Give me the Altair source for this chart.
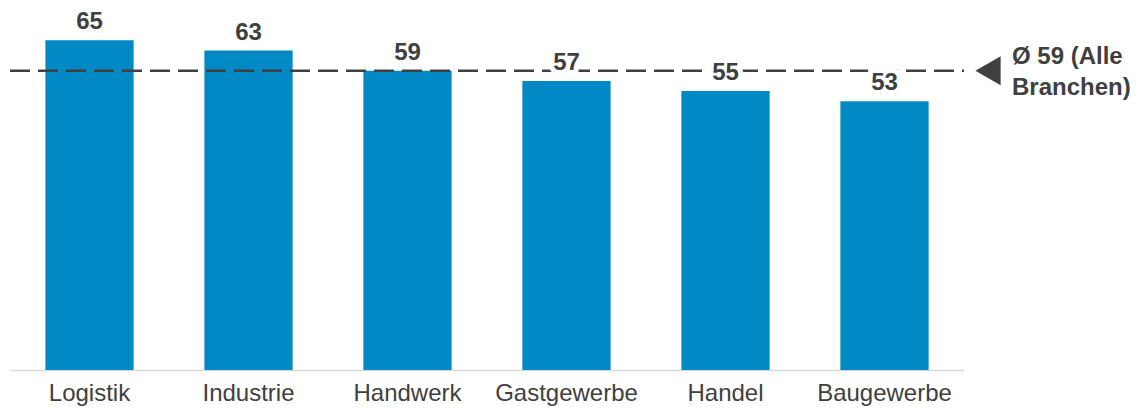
import altair as alt
import pandas as pd

categories = ["Logistik", "Industrie", "Handwerk", "Gastgewerbe", "Handel", "Baugewerbe"]
values = [65, 63, 59, 57, 55, 53]
average = 59
avg_label = ["Ø 59 (Alle", "Branchen)"]

df = pd.DataFrame({"cat": categories, "val": values})
avg_df = pd.DataFrame({"avg": [average]})

FONT = "Liberation Sans"
DARK = "#404040"
BLUE = "#0089C4"

yscale = alt.Scale(domain=[0, 70], nice=False, zero=True)

x = alt.X(
    "cat:N",
    sort=categories,
    title=None,
    scale=alt.Scale(paddingInner=0.445, paddingOuter=0.2225),
    axis=alt.Axis(
        labelAngle=0,
        labelFontSize=24,
        labelFont=FONT,
        labelColor=DARK,
        domainColor="#d9d9d9",
        domainWidth=1.5,
        ticks=False,
        labelPadding=11,
    ),
)
y = alt.Y("val:Q", scale=yscale, axis=None, title=None)

base = alt.Chart(df)

bars = base.mark_bar(color=BLUE).encode(x=x, y=y)

rule = alt.Chart(avg_df).mark_rule(
    color=DARK, strokeWidth=2.5, strokeDash=[20, 8]
).encode(
    y=alt.Y("avg:Q", scale=yscale, axis=None),
    x=alt.value(0),
    x2=alt.value(954),
)

halo = base.mark_text(
    font=FONT, fontSize=24, fontWeight="bold", color="white",
    stroke="white", strokeWidth=10, baseline="alphabetic", dy=-11,
).encode(x=x, y=y, text=alt.Text("val:Q"))

labels = base.mark_text(
    font=FONT, fontSize=24, fontWeight="bold", color=DARK,
    baseline="alphabetic", dy=-11,
).encode(x=x, y=y, text=alt.Text("val:Q"))

tri = alt.Chart(avg_df).mark_point(
    shape="triangle-left", filled=True, size=850, color=DARK, opacity=1
).encode(
    x=alt.value(978),
    y=alt.Y("avg:Q", scale=yscale, axis=None),
)

ann = alt.Chart(avg_df).mark_text(
    text=avg_label, font=FONT, fontSize=24, fontWeight="bold", color=DARK,
    align="left", baseline="middle", lineHeight=31, dy=-14,
).encode(
    x=alt.value(1002),
    y=alt.Y("avg:Q", scale=yscale, axis=None),
)

chart = alt.layer(bars, rule, halo, labels, tri, ann).properties(
    width=954,
    height=355,
    background="white",
    padding={"left": 10, "top": 15, "right": 180, "bottom": 42},
    autosize=alt.AutoSizeParams(type="none"),
).configure_view(stroke=None, strokeWidth=0)

chart.save("out.html", embed_options={"renderer": "svg", "actions": False})
